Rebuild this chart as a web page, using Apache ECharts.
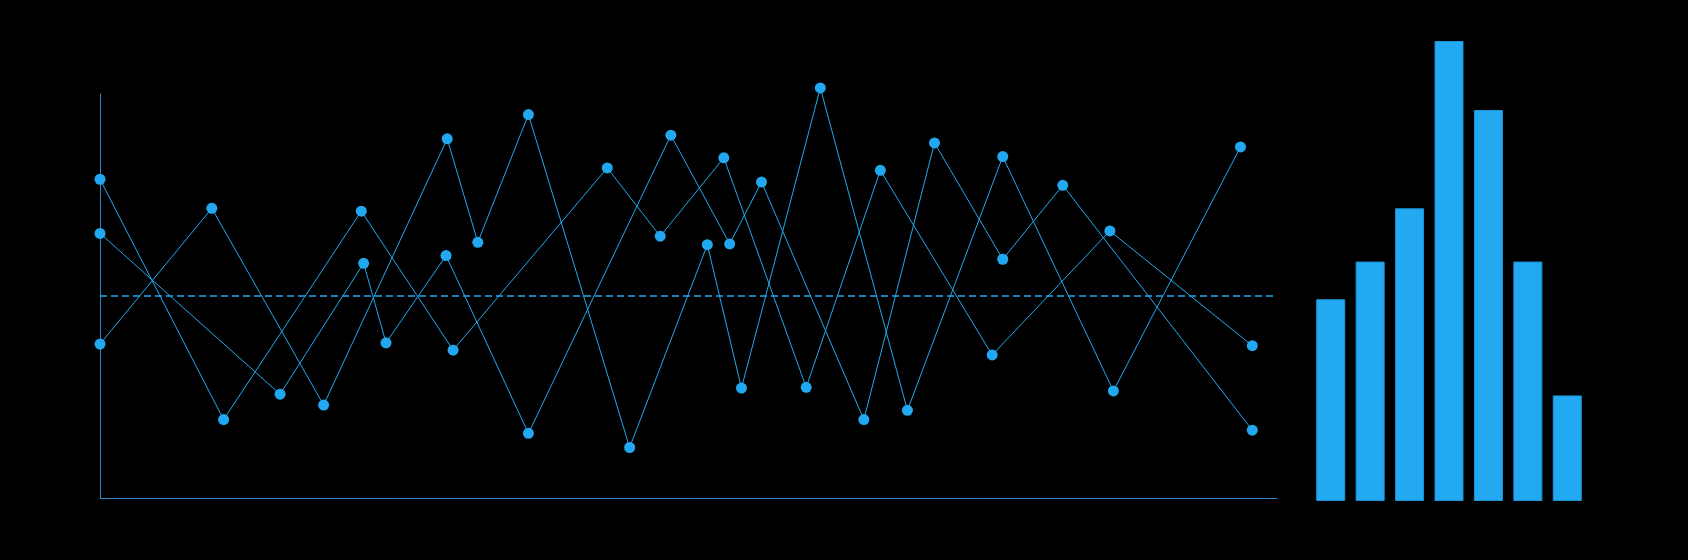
<!DOCTYPE html>
<html>
<head>
<meta charset="utf-8">
<script src="https://cdn.jsdelivr.net/npm/echarts@6/dist/echarts.min.js"></script>
<style>
html,body{margin:0;padding:0;background:#000;}
#c{width:1688px;height:560px;}
</style>
</head>
<body>
<div id="c"></div>
<script>
// Line series: [x, y] pairs (x 0..100, y 0..100)
var seriesA = [[0,78.9],[10.5,19.4],[22.2,71.0],[30.0,36.6],[43.1,81.7],[47.6,64.8],[53.0,84.2],[60.0,27.4],[66.3,81.1],[75.8,35.4],[85.8,66.1],[97.9,37.7]];
var seriesB = [[0,65.5],[15.3,25.7],[22.4,58.1],[24.3,38.4],[29.4,60.0],[36.4,16.0],[48.5,89.8],[53.5,62.9],[56.2,78.2],[64.9,19.4],[70.9,87.9],[76.7,59.1],[81.8,77.4],[97.9,16.8]];
var seriesC = [[0,38.1],[9.5,71.7],[19.0,23.0],[29.5,88.9],[32.1,63.3],[36.4,94.9],[45.0,12.5],[51.6,62.7],[54.5,27.2],[61.2,101.5],[68.6,21.7],[76.7,84.5],[86.1,26.5],[96.9,86.9]];
var refValue = 50;

// Bar chart on the right
var barCategories = ['1','2','3','4','5','6','7'];
var barValues = [19.3, 22.9, 28.0, 44.0, 37.4, 22.9, 10.1];

var BLUE = '#22a8f0';
var AXIS = '#2a86c8';

function lineSeries(data, withMark) {
  var s = {
    type: 'line',
    data: data,
    xAxisIndex: 0,
    yAxisIndex: 0,
    symbol: 'circle',
    symbolSize: 11,
    clip: false,
    itemStyle: { color: BLUE },
    lineStyle: { color: BLUE, width: 1 },
    emphasis: { disabled: true },
    animation: false
  };
  if (withMark) {
    s.markLine = {
      silent: true,
      symbol: ['none', 'none'],
      label: { show: false },
      lineStyle: { color: BLUE, type: [7, 4], width: 1.5 },
      data: [{ yAxis: refValue }],
      animation: false
    };
  }
  return s;
}

var chart = echarts.init(document.getElementById('c'));
chart.setOption({
  backgroundColor: '#000',
  animation: false,
  grid: [
    { left: 100, right: 411, top: 94, bottom: 62 },
    { left: 1311, right: 101, top: 41, bottom: 59 }
  ],
  xAxis: [
    {
      gridIndex: 0, type: 'value', min: 0, max: 100,
      axisLine: { show: true, onZero: false, lineStyle: { color: AXIS, width: 1 } },
      axisTick: { show: false }, axisLabel: { show: false }, splitLine: { show: false }
    },
    {
      gridIndex: 1, type: 'category', data: barCategories,
      axisLine: { show: false }, axisTick: { show: false }, axisLabel: { show: false }, splitLine: { show: false }
    }
  ],
  yAxis: [
    {
      gridIndex: 0, type: 'value', min: 0, max: 100,
      axisLine: { show: true, lineStyle: { color: AXIS, width: 1 } },
      axisTick: { show: false }, axisLabel: { show: false }, splitLine: { show: false }
    },
    {
      gridIndex: 1, type: 'value', min: 0, max: 44,
      axisLine: { show: false }, axisTick: { show: false }, axisLabel: { show: false }, splitLine: { show: false }
    }
  ],
  series: [
    lineSeries(seriesA, true),
    lineSeries(seriesB, false),
    lineSeries(seriesC, false),
    {
      type: 'bar',
      xAxisIndex: 1,
      yAxisIndex: 1,
      data: barValues,
      barWidth: 29,
      itemStyle: { color: '#23a9f2', borderColor: '#1d92d6', borderWidth: 1 },
      emphasis: { disabled: true },
      animation: false
    }
  ]
});
</script>
</body>
</html>
